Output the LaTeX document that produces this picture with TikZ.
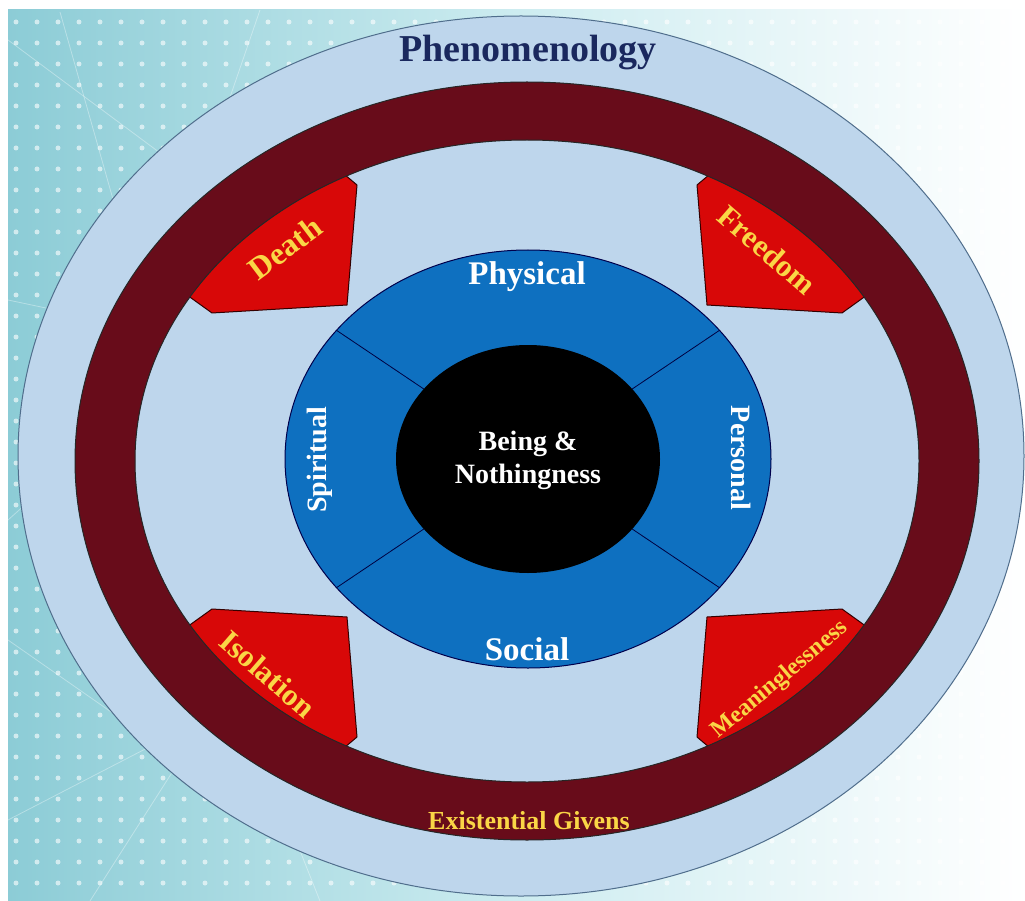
\documentclass[tikz,border=0pt]{standalone}
\usepackage{fontspec}
\setmainfont{Liberation Serif}
\definecolor{bgteal}{RGB}{140,204,214}
\definecolor{bgmid}{RGB}{205,236,240}
\definecolor{lightblue}{RGB}{190,214,236}
\definecolor{outerline}{RGB}{80,110,140}
\definecolor{ringred}{RGB}{104,12,26}
\definecolor{boxred}{RGB}{216,8,8}
\definecolor{midblue}{RGB}{14,112,192}
\definecolor{navy}{RGB}{26,40,94}
\definecolor{gold}{RGB}{250,214,70}
\begin{document}
\begin{tikzpicture}[x=1pt,y=-1pt,
  lbl/.style={inner sep=0pt, font=\bfseries},
  givenbox/.style={fill=boxred, draw=black!80!red, line width=1pt, line join=round},
  givenlbl/.style={lbl, text=gold},
  dimlbl/.style={lbl, text=white}]
\useasboundingbox (0,0) rectangle (1025,901);
% background
\fill[white] (0,0) rectangle (1025,901);
\shade[left color=bgteal, right color=white, middle color=bgmid] (8,10) rectangle (1025,901);
\begin{scope}[white, opacity=0.35, line width=0.8pt]
  \draw (8,40) -- (210,190) -- (120,420) -- (8,520);
  \draw (60,12) -- (150,330) -- (8,300);
  \draw (8,640) -- (180,760) -- (90,901);
  \draw (8,820) -- (240,700) -- (320,901);
  \draw (150,330) -- (260,10);
  \draw (120,420) -- (180,760);
\end{scope}
\foreach \i in {0,...,48}{
  \foreach \j in {0,...,42}{
    \fill[white, opacity=0.6] (16+\i*21, 22+\j*21) circle (2.5pt);
  }
}
% outer phenomenology ellipse
\fill[lightblue, draw=outerline, line width=1pt] (521,456) ellipse [x radius=503pt, y radius=440pt];
% red givens (drawn under ring)
\draw[givenbox] (212,313) -- (347,305) -- (357,185) -- (325,158) -- (230,195) -- (180,290) -- cycle;
\draw[givenbox] (842,313) -- (707,305) -- (697,185) -- (729,158) -- (824,195) -- (874,290) -- cycle;
\draw[givenbox] (212,609) -- (347,617) -- (357,737) -- (325,764) -- (230,727) -- (180,632) -- cycle;
\draw[givenbox] (842,609) -- (707,617) -- (697,737) -- (729,764) -- (824,727) -- (874,632) -- cycle;
% ring
\fill[ringred, even odd rule] (527,461) ellipse [x radius=452pt, y radius=379pt]
                              (527,461) ellipse [x radius=392pt, y radius=321pt];
\draw[black!85, line width=1pt] (527,461) ellipse [x radius=452pt, y radius=379pt];
\draw[black!85, line width=1pt] (527,461) ellipse [x radius=392pt, y radius=321pt];
% blue dimensions
\coordinate (c) at (528,459);
\fill[midblue, draw=black!70!blue, line width=1pt] (c) ellipse [x radius=243pt, y radius=209pt];
\foreach \a in {38,142,218,322}{
  \draw[black!75!blue, line width=0.8pt] (c) -- ++(\a:243pt and 209pt);
}
\fill[black] (c) ellipse [x radius=132pt, y radius=114pt];
% labels
\node[lbl, text=navy, font=\bfseries\fontsize{38}{40}\selectfont, anchor=base] (phen) at (528,62) {Phenomenology};
\node[givenlbl, font=\bfseries\fontsize{26}{28}\selectfont, anchor=base] (giv) at (529,829) {Existential Givens};
\node[dimlbl, font=\bfseries\fontsize{33}{35}\selectfont, anchor=base] (phys) at (527,285) {Physical};
\node[dimlbl, font=\bfseries\fontsize{33}{35}\selectfont, anchor=base] (soc) at (527,660) {Social};
\node[dimlbl, font=\bfseries\fontsize{28}{30}\selectfont, anchor=base, rotate=90] (spir) at (326,460) {Spiritual};
\node[dimlbl, font=\bfseries\fontsize{28}{30}\selectfont, anchor=base, rotate=-90] (pers) at (731,458) {Personal};
\node[dimlbl, font=\bfseries\fontsize{28}{33}\selectfont, align=center] (being) at (528,460) {Being \&\\Nothingness};
\node[givenlbl, font=\bfseries\fontsize{32}{34}\selectfont, rotate=37] (death) at (285,248) {Death};
\node[givenlbl, font=\bfseries\fontsize{31}{33}\selectfont, rotate=-41] (free) at (767,250) {Freedom};
\node[givenlbl, font=\bfseries\fontsize{31}{33}\selectfont, rotate=-41] (iso) at (268,674) {Isolation};
\node[givenlbl, font=\bfseries\fontsize{24}{26}\selectfont, rotate=40] (mean) at (780,680) {Meaninglessness};
\end{tikzpicture}
\end{document}
